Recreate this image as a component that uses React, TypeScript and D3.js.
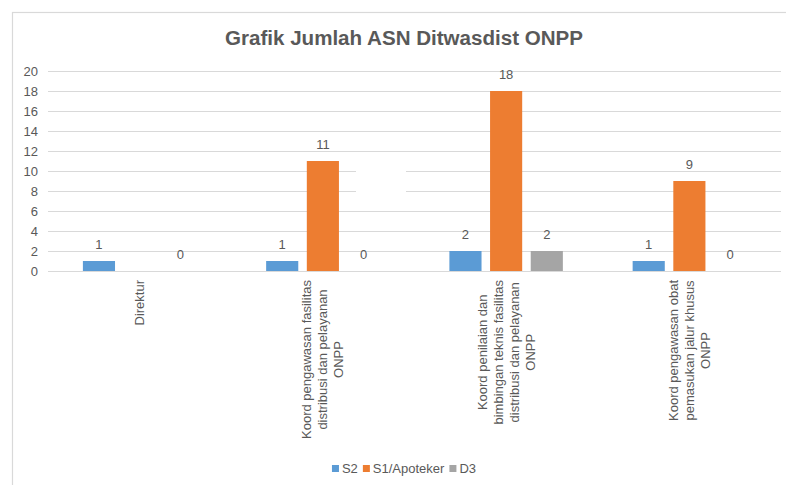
import React, { useEffect, useRef } from 'react';
import * as d3 from 'd3';

const title = "Grafik Jumlah ASN Ditwasdist ONPP";
const categoryLines: string[][] = [
  ["Direktur"],
  ["Koord pengawasan fasilitas", "distribusi dan pelayanan", "ONPP"],
  ["Koord penilaian dan", "bimbingan teknis fasilitas", "distribusi dan pelayanan", "ONPP"],
  ["Koord pengawasan obat", "pemasukan jalur khusus", "ONPP"],
];
const seriesNames = ["S2", "S1/Apoteker", "D3"];
const s2Values: (number | null)[] = [1, 1, 2, 1];
const s1Values: (number | null)[] = [null, 11, 18, 9];
const d3Values: (number | null)[] = [0, 0, 2, 0];
const yTicks = [0, 2, 4, 6, 8, 10, 12, 14, 16, 18, 20];
const seriesColors = ["#5B9BD5", "#ED7D31", "#A5A5A5"];

const W = 786;
const H = 485;
const FONT = "'Liberation Sans', Arial, Helvetica, sans-serif";
const TEXT = "#595959";
const GRID = "#d9d9d9";
const FS = 13;

export default function App() {
  const ref = useRef<SVGSVGElement | null>(null);

  useEffect(() => {
    const svg = d3.select(ref.current);
    svg.selectAll("*").remove();

    const plotLeft = 48, plotRight = 781, plotTop = 71, plotBottom = 271;
    const series = [s2Values, s1Values, d3Values];
    const catIdx = categoryLines.map((_, i) => String(i));

    const x0 = d3.scaleBand<string>().domain(catIdx).range([plotLeft, plotRight]).padding(0);
    const x1 = d3.scaleBand<string>().domain(seriesNames).range([-61, 61]).paddingInner(0.21).paddingOuter(0.105);
    const y = d3.scaleLinear().domain([0, 20]).range([plotBottom, plotTop]);

    // background + border
    svg.append("rect").attr("x", 12.5).attr("y", 12.5).attr("width", 820).attr("height", 520)
      .attr("fill", "#fff").attr("stroke", GRID).attr("stroke-width", 1.2);

    // title
    svg.append("text").attr("x", 404).attr("y", 45).attr("text-anchor", "middle")
      .attr("font-family", FONT).attr("font-size", 20).attr("font-weight", "bold")
      .attr("fill", TEXT).attr("textLength", 358).attr("lengthAdjust", "spacingAndGlyphs")
      .text(title);

    // gridlines
    svg.append("g").selectAll("line").data(yTicks).join("line")
      .attr("x1", plotLeft).attr("x2", plotRight)
      .attr("y1", d => y(d) + 0.5).attr("y2", d => y(d) + 0.5)
      .attr("stroke", GRID).attr("stroke-width", 1);

    // artifact gap in gridlines
    svg.append("rect").attr("x", 356).attr("width", 50)
      .attr("y", y(10.5)).attr("height", y(7.5) - y(10.5)).attr("fill", "#fff");

    // y tick labels
    svg.append("g").selectAll("text").data(yTicks).join("text")
      .attr("x", 38).attr("y", d => y(d) + 5).attr("text-anchor", "end")
      .attr("font-family", FONT).attr("font-size", FS).attr("fill", TEXT)
      .text(d => String(d));

    // bars
    series.forEach((vals, si) => {
      const g = svg.append("g");
      vals.forEach((v, ci) => {
        if (v === null) return;
        const cx = (x0(String(ci)) as number) + x0.bandwidth() / 2;
        const bx = cx + (x1(seriesNames[si]) as number);
        const bw = x1.bandwidth();
        if (v > 0) {
          g.append("rect").attr("x", bx).attr("y", y(v)).attr("width", bw)
            .attr("height", y(0) - y(v)).attr("fill", seriesColors[si]);
        }
        g.append("text").attr("x", bx + bw / 2).attr("y", y(v) - 12)
          .attr("text-anchor", "middle").attr("font-family", FONT).attr("font-size", FS)
          .attr("fill", TEXT).text(String(v));
      });
    });

    // x-axis labels (rotated, multiline, centered)
    categoryLines.forEach((lines, ci) => {
      const cx = (x0(String(ci)) as number) + x0.bandwidth() / 2;
      const g = svg.append("g");
      const t = g.append("text").attr("font-family", FONT).attr("font-size", FS)
        .attr("fill", TEXT).attr("text-anchor", "middle");
      const n = lines.length;
      lines.forEach((ln, li) => {
        t.append("tspan").attr("x", 0).attr("y", (li - (n - 1) / 2) * 16 + 4.5).text(ln);
      });
      let maxLen = 0;
      t.selectAll<SVGTSpanElement, unknown>("tspan").each(function () {
        maxLen = Math.max(maxLen, this.getComputedTextLength());
      });
      g.attr("transform", `translate(${cx},${280 + maxLen / 2}) rotate(-90)`);
    });

    // legend
    const lg = svg.append("g");
    let cursor = 0;
    const items: { x: number; name: string; color: string }[] = [];
    seriesNames.forEach((name, i) => {
      const tmp = lg.append("text").attr("font-family", FONT).attr("font-size", FS).text(name);
      const w = (tmp.node() as SVGTextElement).getComputedTextLength();
      tmp.remove();
      items.push({ x: cursor, name, color: seriesColors[i] });
      cursor += 7 + 3 + w + 5;
    });
    const total = cursor - 5;
    const startX = 404 - total / 2;
    items.forEach(it => {
      lg.append("rect").attr("x", startX + it.x).attr("y", 465).attr("width", 7).attr("height", 7).attr("fill", it.color);
      lg.append("text").attr("x", startX + it.x + 10).attr("y", 473)
        .attr("font-family", FONT).attr("font-size", FS).attr("fill", TEXT).text(it.name);
    });
  }, []);

  return (
    <svg ref={ref} width={W} height={H}
      style={{ position: 'absolute', left: 0, top: 0, background: '#fff' }} />
  );
}
